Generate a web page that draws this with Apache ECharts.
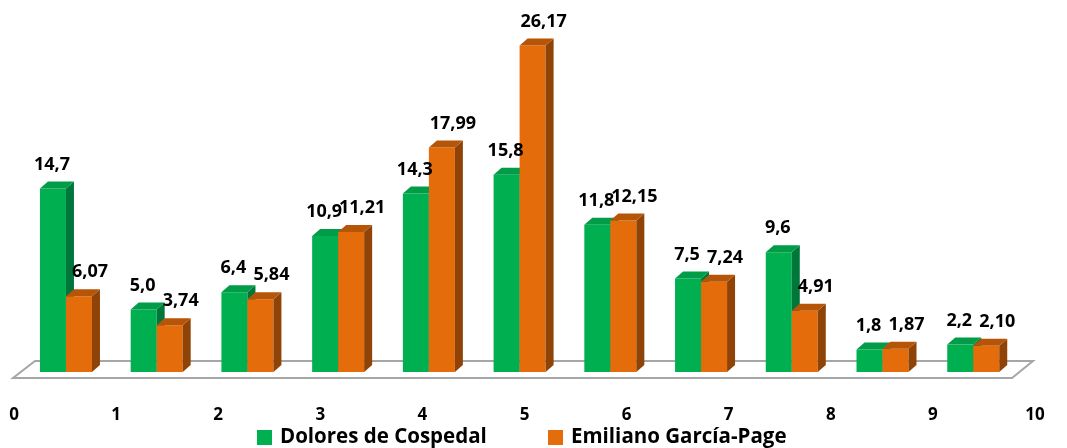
<!DOCTYPE html>
<html><head><meta charset="utf-8">
<script src="https://cdn.jsdelivr.net/npm/echarts@6/dist/echarts.min.js"></script>
<style>html,body{margin:0;padding:0;background:#fff}#c{width:1067px;height:448px}</style>
</head><body><div id="c"></div>
<script>
const categories = ['1','2','3','4','5','6','7','8','9','10','11'];
const cospedal = [14.7, 5.0, 6.4, 10.9, 14.3, 15.8, 11.8, 7.5, 9.6, 1.8, 2.2];
const page = [6.07, 3.74, 5.84, 11.21, 17.99, 26.17, 12.15, 7.24, 4.91, 1.87, 2.10];
const xTickLabels = ['0','1','2','3','4','5','6','7','8','9','10'];
const seriesNames = ['Dolores de Cospedal', 'Emiliano García-Page'];

const FONT = '"Open Sans", "Liberation Sans", sans-serif';
const styles = [
  {front:'#00b050', side:'#00773a', top:'#009c47', decimals:1, labelDx:-1},
  {front:'#e46c0a', side:'#8f4306', top:'#b65508', decimals:2, labelDx:11}
];

function geom(sIdx, api){
  const i = api.value(0), v = api.value(1);
  const base = api.coord([i, 0]), tp = api.coord([i, v]);
  const band = api.size([1, 0])[0];
  const bw = band * 0.2866;
  const x = base[0] - bw + sIdx * bw;
  return {x, bw, y0: base[1], y1: tp[1], v};
}
function barRender(sIdx){
  const st = styles[sIdx];
  return function(params, api){
    const g = geom(sIdx, api), dx = 8, dy = 7;
    const {x, bw, y0, y1} = g;
    return {type:'group', children:[
      {type:'rect', shape:{x:x, y:y1, width:bw, height:y0-y1}, style:{fill:st.front}},
      {type:'polygon', shape:{points:[[x+bw,y1],[x+bw+dx,y1-dy],[x+bw+dx,y0-dy],[x+bw,y0]]}, style:{fill:st.side}},
      {type:'polygon', shape:{points:[[x,y1],[x+dx,y1-dy],[x+bw+dx,y1-dy],[x+bw,y1]]}, style:{fill:st.top}}
    ]};
  };
}
function labelRender(sIdx){
  const st = styles[sIdx];
  return function(params, api){
    const g = geom(sIdx, api);
    return {type:'text', style:{
      text: g.v.toFixed(st.decimals).replace('.', ','),
      x: g.x + g.bw/2 + st.labelDx, y: g.y1 - 24,
      align:'center', verticalAlign:'middle',
      font:'bold 18px ' + FONT, fill:'#000'
    }};
  };
}
function floorRender(params, api){
  const cs = params.coordSys;
  const by = cs.y + cs.height;
  const fy = by + 6, ky = by - 11;
  return {type:'polygon', shape:{points:[
    [cs.x - 7.6, fy], [cs.x + 14.4, ky], [cs.x + cs.width + 14.4, ky], [cs.x + cs.width - 6.6, fy]
  ]}, style:{fill:'#ffffff', stroke:'#a6a6a6', lineWidth:2}};
}

const toPairs = arr => arr.map((v, i) => [i, v]);
const legendText = {fontFamily:FONT, fontWeight:'bold', fontSize:20.5, color:'#000', padding:[0,0,0,3]};

const chart = echarts.init(document.getElementById('c'), null, {renderer:'canvas'});
chart.setOption({
  animation:false,
  backgroundColor:'#ffffff',
  grid:[
    {left:20.6, top:22.6, width:998, height:349.4},
    {left:14, right:32, top:400, height:1}
  ],
  xAxis:[
    {type:'category', data:categories, gridIndex:0, show:false, boundaryGap:true},
    {type:'value', gridIndex:1, min:0, max:10, interval:1,
     axisLine:{show:false}, axisTick:{show:false}, splitLine:{show:false},
     axisLabel:{margin:6, fontFamily:FONT, fontWeight:'bold', fontSize:17, color:'#000',
       formatter: v => xTickLabels[v]}}
  ],
  yAxis:[
    {type:'value', gridIndex:0, min:0, max:28, show:false},
    {type:'value', gridIndex:1, min:0, max:1, show:false}
  ],
  legend:[
    {data:[{name:seriesNames[0], icon:'rect'}], left:257, top:427, padding:0,
     itemWidth:15, itemHeight:15, textStyle:legendText},
    {data:[{name:seriesNames[1], icon:'rect'}], left:548, top:427, padding:0,
     itemWidth:15, itemHeight:15, textStyle:legendText}
  ],
  series:[
    {type:'custom', name:'floor', renderItem:floorRender, data:[[0, 0]], z:1, silent:true},
    {type:'custom', name:seriesNames[0], renderItem:barRender(0), data:toPairs(cospedal), z:2,
     itemStyle:{color:styles[0].front}},
    {type:'custom', name:seriesNames[1], renderItem:barRender(1), data:toPairs(page), z:2,
     itemStyle:{color:styles[1].front}},
    {type:'custom', name:'lbl0', renderItem:labelRender(0), data:toPairs(cospedal), z:5},
    {type:'custom', name:'lbl1', renderItem:labelRender(1), data:toPairs(page), z:5},
    {type:'scatter', xAxisIndex:1, yAxisIndex:1, data:[], silent:true}
  ]
});
</script>
</body></html>
